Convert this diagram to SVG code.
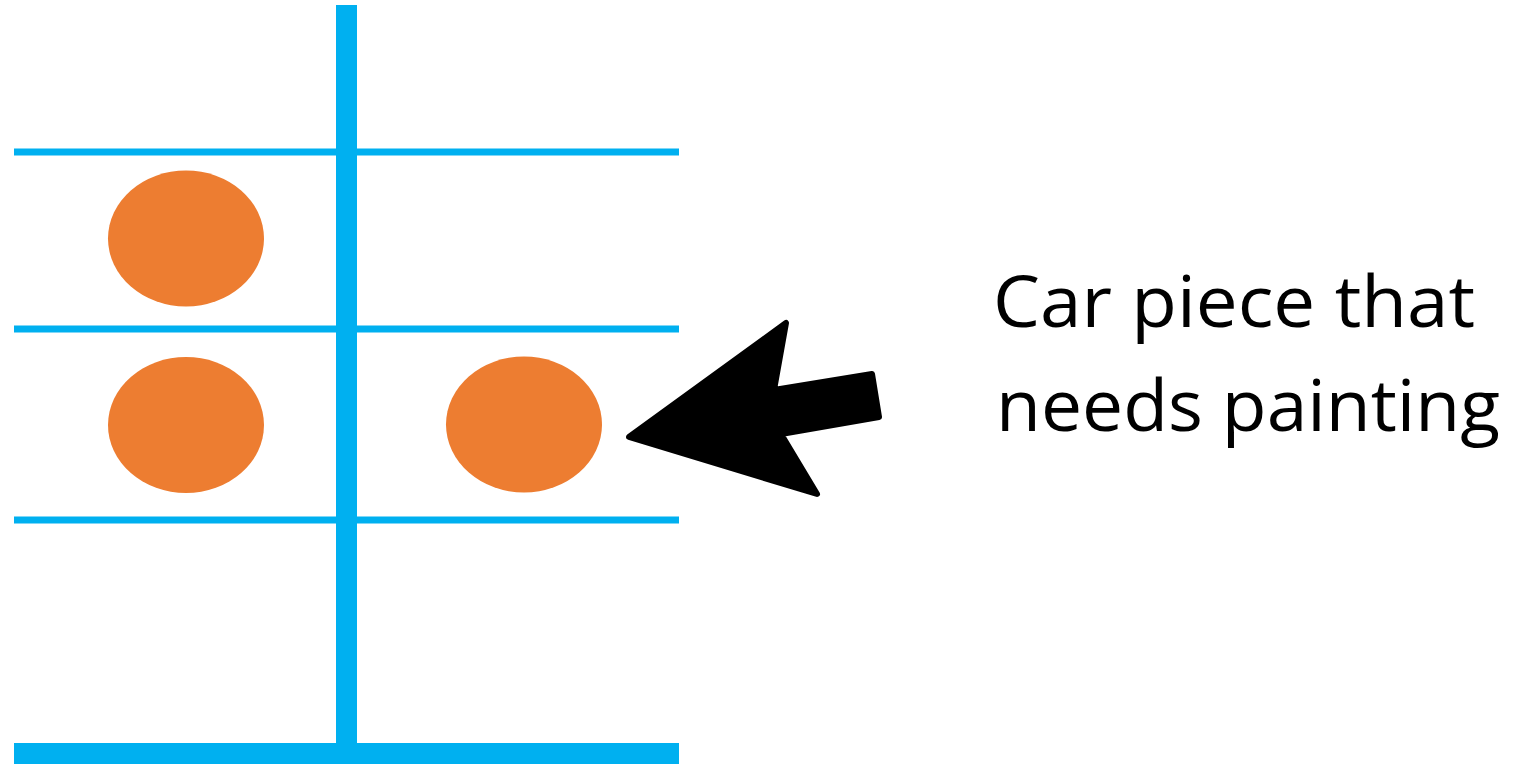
<svg xmlns="http://www.w3.org/2000/svg" width="1535" height="766" viewBox="0 0 1535 766">
<style>
.rail{fill:#00B0F0}
.piece{fill:#ED7D31}
.lbl{font-family:"Open Sans","Liberation Sans",sans-serif;font-size:71px;fill:#000;font-variant-ligatures:none}
</style>
<rect width="1535" height="766" fill="#fff"/>
<g id="rack">
<rect class="rail" x="14" y="148.5" width="665" height="7"/>
<rect class="rail" x="14" y="325.5" width="665" height="7"/>
<rect class="rail" x="14" y="516.5" width="665" height="7"/>
<rect class="rail" x="14" y="743" width="665" height="21"/>
<rect class="rail" x="336" y="5" width="21" height="740"/>
</g>
<g id="pieces">
<ellipse class="piece" cx="186" cy="238.5" rx="78" ry="68"/>
<ellipse class="piece" cx="186" cy="425" rx="78" ry="68"/>
<ellipse class="piece" cx="524" cy="424.5" rx="78" ry="68"/>
</g>
<g id="arrow">
<polygon points="629,437 786,323 774,390 872,374 879,417 781,434 817,494" fill="#000" stroke="#000" stroke-width="6" stroke-linejoin="round"/>
</g>
<g id="label">
<text class="lbl" x="993" y="327" textLength="482" lengthAdjust="spacingAndGlyphs">Car piece that</text>
<text class="lbl" x="996" y="431" textLength="504" lengthAdjust="spacingAndGlyphs">needs painting</text>
</g>
</svg>
